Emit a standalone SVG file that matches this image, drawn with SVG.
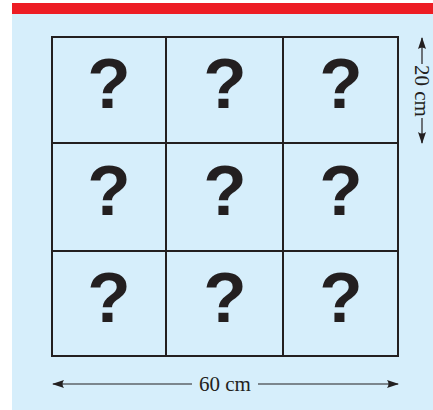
<svg xmlns="http://www.w3.org/2000/svg" width="433" height="410" viewBox="0 0 433 410">
<style>
.grid{fill:none;stroke:#231f20;stroke-width:2}
.q{font-family:"Liberation Sans",Arial,sans-serif;font-weight:bold;font-size:71px;fill:#231f20;text-anchor:middle}
.dim{font-family:"Liberation Serif","Times New Roman",serif;font-size:21px;fill:#231f20;text-anchor:middle}
.dl{stroke:#231f20;stroke-width:1.2;fill:none}
</style>
<defs>
<marker id="ah" viewBox="0 0 12 8" refX="11" refY="4" markerWidth="12" markerHeight="8" markerUnits="userSpaceOnUse" orient="auto">
<path d="M0,0 L12,4 L0,8 Q3,4 0,0 Z" fill="#231f20"/>
</marker>
</defs>
<rect x="12" y="14" width="421" height="396" fill="#d6eefb"/>
<rect x="12" y="3" width="421" height="11" fill="#ed1c24"/>
<g id="grid">
<rect class="grid" x="52" y="37" width="346" height="319"/>
<line class="grid" x1="166" y1="37" x2="166" y2="356"/>
<line class="grid" x1="283" y1="37" x2="283" y2="356"/>
<line class="grid" x1="52" y1="143" x2="398" y2="143"/>
<line class="grid" x1="52" y1="251" x2="398" y2="251"/>
</g>
<g id="cell-1-1"><text class="q" x="109" y="108">?</text></g>
<g id="cell-1-2"><text class="q" x="225" y="108">?</text></g>
<g id="cell-1-3"><text class="q" x="341" y="108">?</text></g>
<g id="cell-2-1"><text class="q" x="109" y="215">?</text></g>
<g id="cell-2-2"><text class="q" x="225" y="215">?</text></g>
<g id="cell-2-3"><text class="q" x="341" y="215">?</text></g>
<g id="cell-3-1"><text class="q" x="109" y="322">?</text></g>
<g id="cell-3-2"><text class="q" x="225" y="322">?</text></g>
<g id="cell-3-3"><text class="q" x="341" y="322">?</text></g>
<g id="connectors">
<line class="dl" x1="192" y1="384" x2="53" y2="384" marker-end="url(#ah)"/>
<line class="dl" x1="258" y1="384" x2="398" y2="384" marker-end="url(#ah)"/>
<line class="dl" x1="422" y1="64" x2="422" y2="38" marker-end="url(#ah)"/>
<line class="dl" x1="422" y1="118" x2="422" y2="143" marker-end="url(#ah)"/>
</g>
<g id="label-60"><text class="dim" x="225" y="391">60 cm</text></g>
<g id="label-20"><text class="dim" transform="translate(415,91) rotate(90)" x="0" y="0">20 cm</text></g>
</svg>
